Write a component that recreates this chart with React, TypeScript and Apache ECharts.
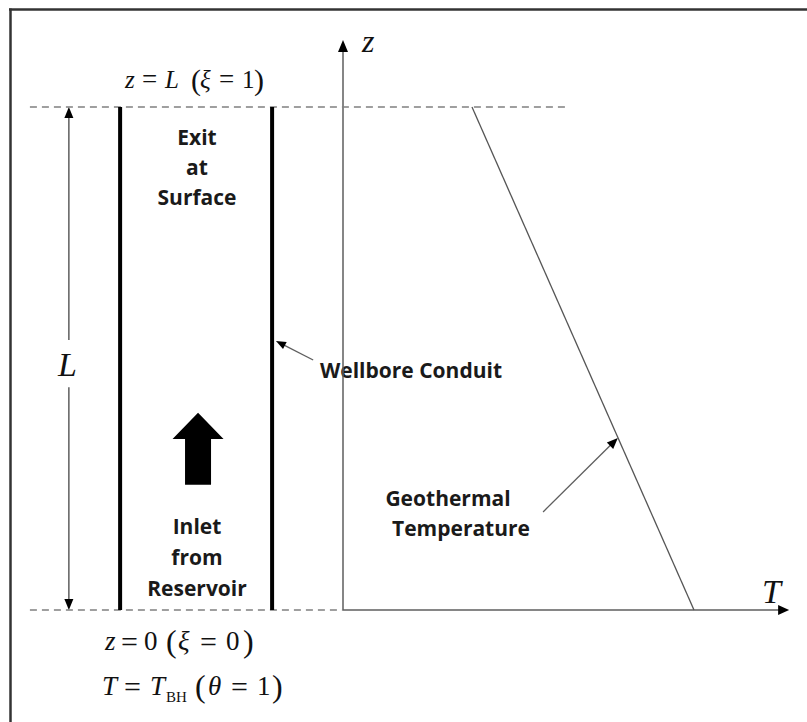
import React, { useEffect, useRef } from "react";
import * as echarts from "echarts";

// Data space: horizontal = dimensionless temperature θ (T axis origin at 0, T_BH at 1),
// vertical = dimensionless depth coordinate ξ (bottom z=0 -> 0, surface z=L -> 1).
const xiBottom = 0;
const xiSurface = 1;
const wellboreWallTheta = [-0.635, -0.202];
const datumStartTheta = -0.892;
const surfaceDatumEndTheta = 0.635;
const geothermalTheta = [1, 0.3675];
const geothermalXi = [0, 1];
const zAxisTopXi = 1.133;
const tAxisEndTheta = 1.271;
const lengthDimTheta = -0.781;
const lengthGapXi = [0.443, 0.537];
const wellborePointer = [-0.085, 0.497, -0.191, 0.535];
const geothermalPointer = [0.57, 0.195, 0.783, 0.342];
const flowArrowTheta = -0.413;
const flowArrowXi = [0.249, 0.34, 0.392]; // tail, head base, tip

const arrowData = [
  [0, xiBottom, 0, zAxisTopXi],
  [0, xiBottom, tAxisEndTheta, xiBottom],
  [lengthDimTheta, lengthGapXi[1], lengthDimTheta, xiSurface],
  [lengthDimTheta, lengthGapXi[0], lengthDimTheta, xiBottom],
  wellborePointer,
  geothermalPointer,
];
const arrowStyles = [
  { w: 1.5, hl: 12, hw: 10 },
  { w: 1.5, hl: 11, hw: 10 },
  { w: 1.5, hl: 11, hw: 9 },
  { w: 1.5, hl: 11, hw: 9 },
  { w: 1.3, hl: 10, hw: 8 },
  { w: 1.3, hl: 11, hw: 9 },
];

const SERIF = "'Liberation Serif', 'DejaVu Serif', serif";
const SANS = "'Open Sans', Lato, sans-serif";

type Piece = [string, number, boolean, number?];

function eqTexts(pieces: Piece[], y: number, size: number) {
  return pieces.map(([t, x, it, fs]) => ({
    type: "text",
    x,
    y,
    style: {
      text: t,
      fontFamily: SERIF,
      fontSize: fs || size,
      fontStyle: it ? "italic" : "normal",
      fill: "#111",
      align: "left",
      verticalAlign: "middle",
    },
  }));
}

function labelText(t: string, x: number, y: number, align = "center") {
  return {
    type: "text",
    x,
    y,
    style: {
      text: t,
      fontFamily: SANS,
      fontWeight: "bold",
      fontSize: 21,
      fill: "#1a1a1a",
      align,
      verticalAlign: "middle",
    },
  };
}

export default function App() {
  const ref = useRef<HTMLDivElement>(null);
  useEffect(() => {
    if (!ref.current) return;
    const chart = echarts.init(ref.current, undefined, { renderer: "svg" });
    const lineGray = "#5e5e5e";
    const option: any = {
      animation: false,
      backgroundColor: "#fff",
      grid: { left: 0, top: 0, right: 0, bottom: 0 },
      xAxis: { type: "value", min: -343 / 351, max: 464 / 351, show: false },
      yAxis: { type: "value", min: -112 / 503, max: 1 + 107 / 503, show: false },
      series: [
        {
          type: "line",
          name: "surface datum",
          data: [
            [datumStartTheta, xiSurface],
            [surfaceDatumEndTheta, xiSurface],
          ],
          symbol: "none",
          lineStyle: { color: "#808080", width: 1.5, type: [7, 5] },
          silent: true,
        },
        {
          type: "line",
          name: "bottom datum",
          data: [
            [datumStartTheta, xiBottom],
            [0, xiBottom],
          ],
          symbol: "none",
          lineStyle: { color: "#808080", width: 1.5, type: [7, 5] },
          silent: true,
        },
        ...wellboreWallTheta.map((th) => ({
          type: "line",
          name: "wall",
          data: [
            [th, xiBottom],
            [th, xiSurface],
          ],
          symbol: "none",
          lineStyle: { color: "#000", width: 4, cap: "butt" },
          silent: true,
        })),
        {
          type: "line",
          name: "geothermal",
          data: geothermalTheta.map((t, i) => [t, geothermalXi[i]]),
          symbol: "none",
          lineStyle: { color: "#555", width: 1.3 },
          silent: true,
        },
        {
          type: "custom",
          name: "arrows",
          clip: false,
          silent: true,
          encode: { x: [0, 2], y: [1, 3] },
          data: arrowData,
          renderItem: (params: any, api: any) => {
            const p1 = api.coord([api.value(0), api.value(1)]);
            const p2 = api.coord([api.value(2), api.value(3)]);
            const st = arrowStyles[params.dataIndex];
            const dx = p2[0] - p1[0];
            const dy = p2[1] - p1[1];
            const len = Math.hypot(dx, dy);
            const ux = dx / len;
            const uy = dy / len;
            const bx = p2[0] - ux * st.hl;
            const by = p2[1] - uy * st.hl;
            const nx = -uy;
            const ny = ux;
            return {
              type: "group",
              children: [
                {
                  type: "line",
                  shape: { x1: p1[0], y1: p1[1], x2: bx + ux * 2, y2: by + uy * 2 },
                  style: { stroke: lineGray, lineWidth: st.w },
                },
                {
                  type: "polygon",
                  shape: {
                    points: [
                      [p2[0], p2[1]],
                      [bx + (nx * st.hw) / 2, by + (ny * st.hw) / 2],
                      [bx - (nx * st.hw) / 2, by - (ny * st.hw) / 2],
                    ],
                  },
                  style: { fill: "#000" },
                },
              ],
            };
          },
        },
        {
          type: "custom",
          name: "flow arrow",
          clip: false,
          silent: true,
          encode: { x: 0, y: [1, 2, 3] },
          data: [[flowArrowTheta, ...flowArrowXi]],
          renderItem: (params: any, api: any) => {
            const tail = api.coord([api.value(0), api.value(1)]);
            const base = api.coord([api.value(0), api.value(2)]);
            const tip = api.coord([api.value(0), api.value(3)]);
            const sw = 13;
            const hw = 25.5;
            const cx = tail[0];
            return {
              type: "polygon",
              shape: {
                points: [
                  [cx - sw, tail[1]],
                  [cx - sw, base[1]],
                  [cx - hw, base[1]],
                  [cx, tip[1]],
                  [cx + hw, base[1]],
                  [cx + sw, base[1]],
                  [cx + sw, tail[1]],
                ],
              },
              style: { fill: "#000" },
            };
          },
        },
      ],
      graphic: [
        { type: "line", shape: { x1: 9, y1: 9.5, x2: 807, y2: 9.5 }, style: { stroke: "#333", lineWidth: 2.5 } },
        { type: "line", shape: { x1: 10.5, y1: 8.5, x2: 10.5, y2: 722 }, style: { stroke: "#333", lineWidth: 2.5 } },
        ...eqTexts(
          [
            ["z", 125, true],
            ["=", 142, false, 27],
            ["L", 165, true],
            ["(", 191, false, 30],
            ["ξ", 200, true],
            ["=", 219, false, 27],
            ["1", 242, false],
            [")", 254, false, 30],
          ],
          79,
          25
        ),
        ...eqTexts(
          [
            ["z", 105, true],
            ["=", 121, false, 30],
            ["0", 144, false],
            ["(", 166, false, 32],
            ["ξ", 178, true],
            ["=", 200, false, 30],
            ["0", 226, false],
            [")", 243, false, 32],
          ],
          641,
          27
        ),
        ...eqTexts(
          [
            ["T", 102, true],
            ["=", 124, false, 30],
            ["T", 150, true],
            ["(", 195, false, 32],
            ["θ", 208, true],
            ["=", 231, false, 30],
            ["1", 257, false],
            [")", 272, false, 32],
          ],
          686,
          27
        ),
        ...eqTexts([["BH", 166, false]], 697, 15),
        ...eqTexts([["L", 58, true]], 364, 34),
        ...eqTexts([["z", 362, true]], 41, 32),
        ...eqTexts([["T", 762, true]], 591, 34),
        labelText("Exit", 197, 137),
        labelText("at", 197, 167),
        labelText("Surface", 197, 197),
        labelText("Inlet", 197, 526),
        labelText("from", 197, 557),
        labelText("Reservoir", 197, 588),
        labelText("Wellbore Conduit", 320, 370, "left"),
        labelText("Geothermal", 448, 498),
        labelText("Temperature", 461, 528),
      ],
    };
    chart.setOption(option);
    return () => chart.dispose();
  }, []);
  return (
    <div
      ref={ref}
      style={{ position: "fixed", left: 0, top: 0, width: 807, height: 722, background: "#fff" }}
    />
  );
}
